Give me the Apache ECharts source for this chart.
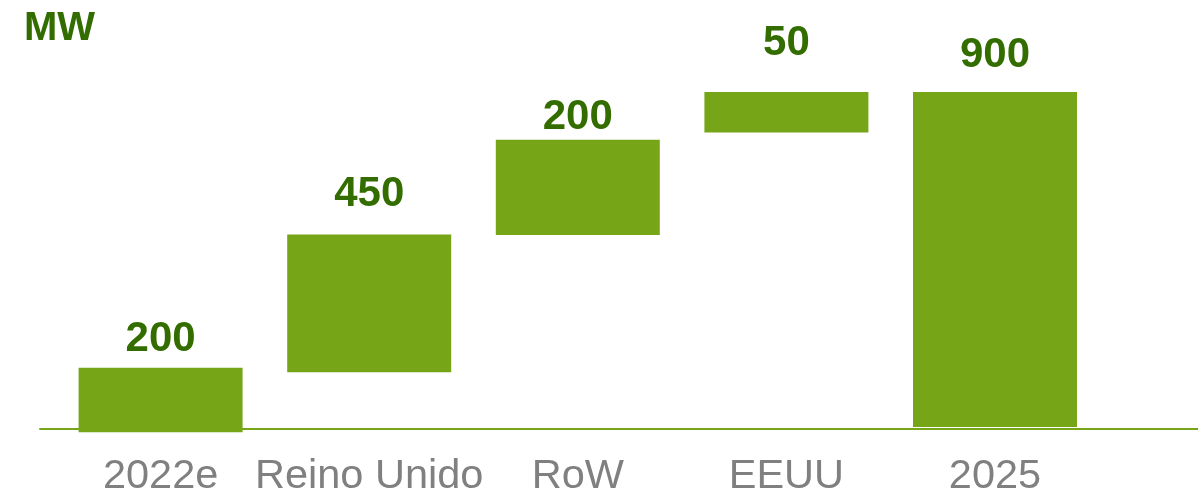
<!DOCTYPE html>
<html>
<head>
<meta charset="utf-8">
<script src="https://cdn.jsdelivr.net/npm/echarts@6/dist/echarts.min.js"></script>
<style>
  html, body { margin: 0; padding: 0; background: #ffffff; }
  #chart { width: 1198px; height: 498px; }
</style>
</head>
<body>
<div id="chart"></div>
<script>
// Categories and the values printed above each bar (MW)
const categories = ['2022e', 'Reino Unido', 'RoW', 'EEUU', '2025'];
const values = [200, 450, 200, 50, 900];
// Bar extents as drawn in the picture (axis units, 2025 bar = 0..900)
const barStart = [-14, 147, 516, 791, 0];
const barEnd = [159, 517, 772, 900, 900];
const unitLabel = 'MW';

// styling: distance of each value label above its bar (px)
const labelDistance = [7, 19, 1, 28, 16];

const green = '#76a618';
const darkGreen = '#336d00';
const grey = '#808080';
const fontFam = '"Liberation Sans", Arial, Helvetica, sans-serif';

const chart = echarts.init(document.getElementById('chart'), null, { renderer: 'canvas' });

const baseData = barStart.map(v => v);
const heightData = barEnd.map((e, i) => ({
  value: e - barStart[i],
  label: { distance: labelDistance[i] }
}));

chart.setOption({
  animation: false,
  backgroundColor: '#ffffff',
  title: {
    text: unitLabel,
    left: 19,
    top: 4,
    textStyle: { color: darkGreen, fontSize: 40, fontWeight: 'bold', fontFamily: fontFam }
  },
  grid: [
    { left: 56.3, right: 98.7, top: 92, bottom: 61.5 },
    { left: 40, right: 0, top: 92, bottom: 69 }
  ],
  xAxis: [
    {
      type: 'category',
      gridIndex: 0,
      data: categories,
      axisLine: { show: false, onZero: false },
      axisTick: { show: false },
      axisLabel: {
        color: grey,
        fontSize: 41.5,
        fontFamily: fontFam,
        margin: 21.5,
        interval: 0
      }
    },
    {
      type: 'category',
      gridIndex: 1,
      data: [''],
      axisLine: { show: true, lineStyle: { color: green, width: 2 } },
      axisTick: { show: false },
      axisLabel: { show: false }
    }
  ],
  yAxis: [
    { type: 'value', gridIndex: 0, min: -20, max: 900, show: false },
    { type: 'value', gridIndex: 1, min: 0, max: 1, show: false }
  ],
  series: [
    {
      type: 'bar',
      xAxisIndex: 0,
      yAxisIndex: 0,
      stack: 'wf',
      stackStrategy: 'all',
      barWidth: 164,
      itemStyle: { color: 'transparent' },
      emphasis: { disabled: true },
      data: baseData,
      z: 2
    },
    {
      type: 'bar',
      xAxisIndex: 0,
      yAxisIndex: 0,
      stack: 'wf',
      stackStrategy: 'all',
      barWidth: 164,
      itemStyle: { color: green },
      emphasis: { disabled: true },
      label: {
        show: true,
        position: 'top',
        color: darkGreen,
        fontSize: 42,
        fontWeight: 'bold',
        fontFamily: fontFam,
        formatter: p => String(values[p.dataIndex])
      },
      data: heightData,
      z: 3
    }
  ]
});
</script>
</body>
</html>
